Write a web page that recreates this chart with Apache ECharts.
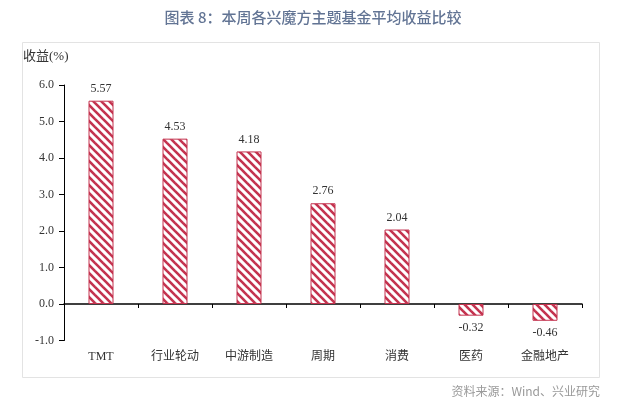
<!DOCTYPE html>
<html><head><meta charset="utf-8">
<script src="https://cdn.jsdelivr.net/npm/echarts@6/dist/echarts.min.js"></script>
<style>html,body{margin:0;padding:0;background:#fff}#c{width:626px;height:409px}</style>
</head><body><div id="c"></div>
<script>
var categories = ['TMT', '行业轮动', '中游制造', '周期', '消费', '医药', '金融地产'];
var values = [5.57, 4.53, 4.18, 2.76, 2.04, -0.32, -0.46];
var yTicks = { min: -1, max: 6, interval: 1 };

var RED = '#c4334f';
function makePattern() {
  var n = 8;
  var c = document.createElement('canvas');
  c.width = n; c.height = n;
  var g = c.getContext('2d');
  g.fillStyle = '#fff'; g.fillRect(0, 0, n, n);
  g.strokeStyle = RED; g.lineWidth = 2.6;
  for (var k = -1; k <= 1; k++) {
    g.beginPath();
    g.moveTo(k * n - 1, -1);
    g.lineTo(k * n + n + 1, n + 1);
    g.stroke();
  }
  return c;
}
var serif = '"Liberation Serif", "Noto Sans CJK SC", serif';
var chart = echarts.init(document.getElementById('c'));
chart.setOption({
  animation: false,
  backgroundColor: '#fff',
  title: {
    text: '图表 8：本周各兴魔方主题基金平均收益比较',
    left: 'center', top: 5,
    textStyle: { color: '#627494', fontSize: 15, fontWeight: 500, fontFamily: '"Noto Sans CJK SC"' }
  },
  graphic: [
    { type: 'rect', left: 20, top: 40, shape: { width: 577, height: 335 }, style: { fill: 'none', stroke: '#e3e3e3', lineWidth: 1 }, silent: true, z: -1 },
    { type: 'text', left: 23, top: 50, style: { text: '收益(%)', fill: '#333', font: '13px ' + serif } },
    { type: 'text', right: 26, top: 385, style: { text: '资料来源：Wind、兴业研究', fill: '#999', font: '12px "Noto Sans CJK SC"' } }
  ],
  grid: { left: 64, right: 44, top: 85, bottom: 68.5 },
  xAxis: [
    {
      type: 'category', data: categories, position: 'bottom',
      axisLine: { show: false, onZero: false }, axisTick: { show: false },
      axisLabel: { margin: 10, color: '#333', fontSize: 12, fontFamily: serif }
    },
    {
      type: 'category', data: categories, position: 'bottom',
      axisLine: { show: true, onZero: true, lineStyle: { color: '#000', width: 1.5 } },
      axisTick: { show: true, length: 4, inside: false, lineStyle: { color: '#000' } },
      axisLabel: { show: false }
    }
  ],
  yAxis: {
    type: 'value', min: yTicks.min, max: yTicks.max, interval: yTicks.interval,
    axisLine: { show: true, lineStyle: { color: '#000', width: 1 } },
    axisTick: { show: true, length: 5, lineStyle: { color: '#000' } },
    splitLine: { show: false },
    axisLabel: { margin: 10, color: '#333', fontSize: 12, fontFamily: serif, formatter: function (v) { return v.toFixed(1); } }
  },
  series: [{
    type: 'bar', data: values.map(function (v) {
      return { value: v, label: { position: v >= 0 ? 'top' : 'bottom' } };
    }),
    barWidth: 25,
    itemStyle: { color: { image: makePattern(), repeat: 'repeat' }, borderColor: RED, borderWidth: 1 },
    label: { show: true, distance: 6, color: '#333', fontSize: 12, fontFamily: serif, formatter: function (p) { return p.value.toFixed(2); } }
  }]
});
</script></body></html>
